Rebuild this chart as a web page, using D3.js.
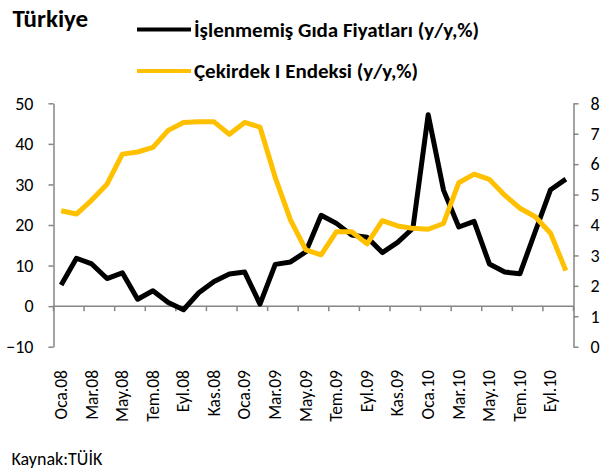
<!DOCTYPE html>
<html>
<head>
<meta charset="utf-8">
<script src="https://cdn.jsdelivr.net/npm/d3@7"></script>
<style>
  body { margin: 0; background: #fff; }
  text { font-family: Carlito, Calibri, Lato, sans-serif; }
</style>
</head>
<body>
<script>
// months Oca.08 .. Eki.10
var months = ["Oca.08","Şub.08","Mar.08","Nis.08","May.08","Haz.08","Tem.08","Ağu.08","Eyl.08","Eki.08","Kas.08","Ara.08",
              "Oca.09","Şub.09","Mar.09","Nis.09","May.09","Haz.09","Tem.09","Ağu.09","Eyl.09","Eki.09","Kas.09","Ara.09",
              "Oca.10","Şub.10","Mar.10","Nis.10","May.10","Haz.10","Tem.10","Ağu.10","Eyl.10","Eki.10"];

// İşlenmemiş gıda (left axis)
var gida = [5.2, 11.8, 10.4, 6.8, 8.2, 1.7, 3.8, 0.9, -0.9, 3.3, 6.1, 7.9,
            8.4, 0.5, 10.3, 10.9, 13.4, 22.4, 20.4, 17.5, 17.0, 13.2, 15.7, 19.2,
            47.2, 28.6, 19.5, 20.9, 10.4, 8.4, 8.0, 18.4, 28.7, 31.3];

// Çekirdek I endeksi (right axis)
var cekirdek = [4.47, 4.36, 4.82, 5.34, 6.33, 6.40, 6.55, 7.11, 7.37, 7.39, 7.39, 6.98,
                7.37, 7.22, 5.56, 4.16, 3.18, 3.02, 3.78, 3.78, 3.38, 4.14, 3.97, 3.89,
                3.86, 4.05, 5.39, 5.67, 5.50, 4.98, 4.55, 4.27, 3.73, 2.50];

var leftTicks = [-10, 0, 10, 20, 30, 40, 50];
var rightTicks = [0, 1, 2, 3, 4, 5, 6, 7, 8];

var width = 602, height = 471;
var plotLeft = 53.5, plotRight = 573.5, plotTop = 103.3, plotBottom = 346.7;
var axisColor = "#868686";

var svg = d3.select("body").append("svg")
    .attr("width", width)
    .attr("height", height);

var x = d3.scaleBand().domain(months).range([plotLeft, plotRight]);
var yL = d3.scaleLinear().domain([-10, 50]).range([plotBottom, plotTop]);
var yR = d3.scaleLinear().domain([0, 8]).range([plotBottom, plotTop]);

// left axis
var leftAxis = svg.append("g")
    .attr("transform", "translate(" + plotLeft + ",0)")
    .call(d3.axisLeft(yL).tickValues(leftTicks).tickSize(5).tickPadding(15).tickSizeOuter(0));

// right axis (labels sit right at the edge, like the original)
var rightAxis = svg.append("g")
    .attr("transform", "translate(" + plotRight + ",0)")
    .call(d3.axisRight(yR).tickValues(rightTicks).tickSize(5).tickPadding(12).tickSizeOuter(0));

[leftAxis, rightAxis].forEach(function(g) {
    g.select(".domain").attr("stroke", axisColor).attr("stroke-width", 1.5);
    g.selectAll(".tick line").attr("stroke", axisColor).attr("stroke-width", 1.5);
    g.selectAll(".tick text").attr("fill", "#000").style("font-size", "18px");
});

// category axis at zero
var boundaries = months.filter(function(d, i) { return i % 2 == 0; });
var xAxis = svg.append("g").attr("transform", "translate(0," + yL(0) + ")");
xAxis.append("line")
    .attr("x1", plotLeft).attr("x2", plotRight)
    .attr("stroke", axisColor).attr("stroke-width", 1.5);
xAxis.selectAll("line.tk")
    .data(boundaries.concat(["end"]))
    .enter().append("line")
    .attr("class", "tk")
    .attr("x1", function(d) { return d == "end" ? plotRight : x(d); })
    .attr("x2", function(d) { return d == "end" ? plotRight : x(d); })
    .attr("y1", 0).attr("y2", 5)
    .attr("stroke", axisColor).attr("stroke-width", 1.5);

// month labels
svg.selectAll("text.month")
    .data(boundaries)
    .enter().append("text")
    .attr("class", "month")
    .attr("transform", function(d) { return "translate(" + (x(d) + x.bandwidth() / 2) + ",370) rotate(-90)"; })
    .attr("text-anchor", "end")
    .attr("dy", "0.33em")
    .style("font-size", "17.5px")
    .text(function(d) { return d; });

// lines
var lineL = d3.line()
    .x(function(d, i) { return x(months[i]) + x.bandwidth() / 2; })
    .y(function(d) { return yL(d); });
var lineR = d3.line()
    .x(function(d, i) { return x(months[i]) + x.bandwidth() / 2; })
    .y(function(d) { return yR(d); });

svg.append("path")
    .datum(gida)
    .attr("d", lineL)
    .attr("fill", "none")
    .attr("stroke", "#000")
    .attr("stroke-width", 5)
    .attr("stroke-linejoin", "round");

svg.append("path")
    .datum(cekirdek)
    .attr("d", lineR)
    .attr("fill", "none")
    .attr("stroke", "#FFC000")
    .attr("stroke-width", 5)
    .attr("stroke-linejoin", "round");

// title
svg.append("text")
    .attr("x", 12.5).attr("y", 27)
    .style("font-size", "25px").style("font-weight", "bold")
    .text("Türkiye");

// legend
var legend = [
    { name: "İşlenmemiş Gıda Fiyatları (y/y,%)", color: "#000", y: 29.5 },
    { name: "Çekirdek I Endeksi (y/y,%)", color: "#FFC000", y: 71 }
];
var lg = svg.selectAll("g.legend").data(legend).enter().append("g").attr("class", "legend");
lg.append("line")
    .attr("x1", 137).attr("x2", 191)
    .attr("y1", function(d) { return d.y; }).attr("y2", function(d) { return d.y; })
    .attr("stroke", function(d) { return d.color; })
    .attr("stroke-width", 4);
lg.append("text")
    .attr("x", 194)
    .attr("y", function(d) { return d.y + 7.3; })
    .style("font-size", "21px").style("font-weight", "bold")
    .text(function(d) { return d.name; });

// source
svg.append("text")
    .attr("x", 11.5).attr("y", 465)
    .style("font-size", "18px")
    .text("Kaynak:TÜİK");
</script>
</body>
</html>
